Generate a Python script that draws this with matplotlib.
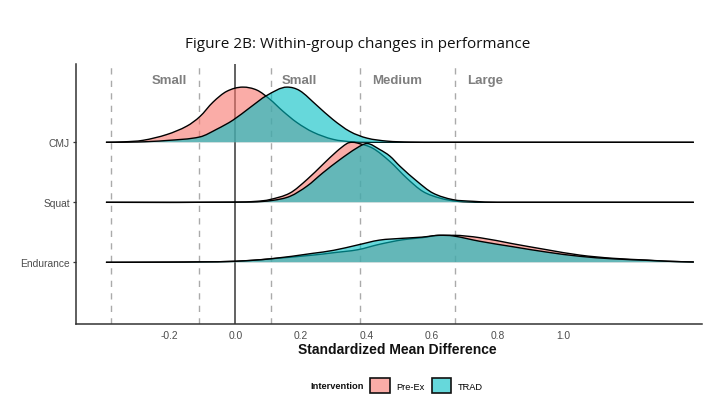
import matplotlib
matplotlib.use("Agg")
import matplotlib.pyplot as plt
from matplotlib.path import Path
from matplotlib.patches import PathPatch, Patch
from matplotlib.colors import to_rgba

# ---------------- data ----------------
outcomes = ["Endurance", "Squat", "CMJ"]          # bottom -> top
groups = ["Pre-Ex", "TRAD"]
group_colors = ["#F8766D", "#00BFC4"]
thresholds = [-0.38, -0.11, 0.11, 0.38, 0.67]
region_labels = ["Small", "Small", "Medium", "Large"]
region_label_x = [-0.20, 0.197, 0.495, 0.762]
x_ticks = [-0.2, 0.0, 0.2, 0.4, 0.6, 0.8, 1.0]
x_tick_labels = ["-0.2", "0.0", "0.2", "0.4", "0.6", "0.8", "1.0"]

# ridge heights in units of ridge spacing
cmj_pre_x = [-0.395, -0.34, -0.282, -0.209, -0.148, -0.108, -0.068, -0.026, 0.023,
             0.066, 0.105, 0.145, 0.188, 0.237, 0.298, 0.359, 0.44, 1.40]
cmj_pre_h = [0.0, 0.008, 0.033, 0.13, 0.27, 0.43, 0.67, 0.85, 0.92,
             0.87, 0.72, 0.52, 0.33, 0.17, 0.05, 0.008, 0.0, 0.0]
cmj_trad_x = [-0.395, -0.30, -0.21, -0.108, -0.056, -0.007, 0.045, 0.096, 0.158,
              0.197, 0.248, 0.298, 0.35, 0.402, 0.463, 0.533, 0.62, 1.40]
cmj_trad_h = [0.0, 0.005, 0.03, 0.09, 0.22, 0.37, 0.58, 0.78, 0.92,
              0.86, 0.62, 0.38, 0.18, 0.07, 0.02, 0.003, 0.0, 0.0]

squat_pre_x = [-0.395, 0.0, 0.066, 0.105, 0.167, 0.219, 0.267, 0.310, 0.341, 0.356,
               0.371, 0.42, 0.472, 0.524, 0.573, 0.625, 0.677, 0.75, 1.40]
squat_pre_h = [0.0, 0.002, 0.017, 0.045, 0.155, 0.38, 0.63, 0.85, 0.98, 1.0,
               0.99, 0.9, 0.68, 0.40, 0.18, 0.07, 0.017, 0.0, 0.0]
squat_trad_x = [-0.395, 0.05, 0.115, 0.167, 0.219, 0.267, 0.319, 0.371, 0.402, 0.441,
                0.472, 0.503, 0.555, 0.603, 0.664, 0.725, 0.80, 1.40]
squat_trad_h = [0.0, 0.005, 0.033, 0.10, 0.27, 0.49, 0.71, 0.905, 0.98, 0.88,
                0.77, 0.60, 0.35, 0.155, 0.045, 0.017, 0.0, 0.0]

end_x = [-0.395, -0.2, -0.108, 0.0, 0.106, 0.237, 0.30, 0.374, 0.44, 0.51, 0.57,
         0.625, 0.665, 0.747, 0.847, 0.951, 1.052, 1.153, 1.257, 1.32, 1.40]
end_pre_h = [0.0, 0.003, 0.007, 0.017, 0.057, 0.12, 0.16, 0.21, 0.30, 0.375, 0.41,
             0.45, 0.45, 0.41, 0.31, 0.21, 0.12, 0.067, 0.037, 0.018, 0.005]
end_trad_h = [0.0, 0.003, 0.007, 0.017, 0.057, 0.15, 0.20, 0.29, 0.37, 0.40, 0.42,
              0.45, 0.44, 0.35, 0.26, 0.17, 0.10, 0.058, 0.033, 0.017, 0.005]

ridges = {
    "CMJ": [(cmj_pre_x, cmj_pre_h), (cmj_trad_x, cmj_trad_h)],
    "Squat": [(squat_pre_x, squat_pre_h), (squat_trad_x, squat_trad_h)],
    "Endurance": [(end_x, end_pre_h), (end_x, end_trad_h)],
}

# ---------------- helpers ----------------
def smooth_path(xs, hs, base, closed):
    """Monotone cubic Hermite through the read points, as Bezier segments."""
    n = len(xs)
    m = []
    for i in range(n):
        if i == 0:
            s = (hs[1] - hs[0]) / (xs[1] - xs[0])
        elif i == n - 1:
            s = (hs[-1] - hs[-2]) / (xs[-1] - xs[-2])
        else:
            d1 = hs[i] - hs[i - 1]
            d2 = hs[i + 1] - hs[i]
            if d1 * d2 <= 0:
                s = 0.0
            else:
                s = (hs[i + 1] - hs[i - 1]) / (xs[i + 1] - xs[i - 1])
        m.append(s)
    verts = [(xs[0], base + hs[0])]
    codes = [Path.MOVETO]
    for i in range(n - 1):
        dx = xs[i + 1] - xs[i]
        verts += [(xs[i] + dx / 3, base + hs[i] + m[i] * dx / 3),
                  (xs[i + 1] - dx / 3, base + hs[i + 1] - m[i + 1] * dx / 3),
                  (xs[i + 1], base + hs[i + 1])]
        codes += [Path.CURVE4] * 3
    if closed:
        verts += [(xs[-1], base), (xs[0], base), (xs[0], base)]
        codes += [Path.LINETO, Path.LINETO, Path.CLOSEPOLY]
    return Path(verts, codes)

# ---------------- figure ----------------
W, H = 709, 406
fig = plt.figure(figsize=(W / 100, H / 100), dpi=100)
ax_left, ax_right, ax_top, ax_bottom = 75.8, 701.7, 65.0, 325.0
ax = fig.add_axes([ax_left / W, 1 - ax_bottom / H,
                   (ax_right - ax_left) / W, (ax_bottom - ax_top) / H])

ax.set_xlim(-0.487, 1.424)
ax.set_ylim(-1.028, 3.305)

for t in thresholds:
    ax.axvline(t, color="#AAAAAA", lw=1.0, ls=(0, (4.5, 4.5)), zorder=1)
ax.axvline(0.0, color="#555555", lw=1.3, zorder=1)

z = 2
for name in ["CMJ", "Squat", "Endurance"]:
    base = outcomes.index(name)
    for (xs, hs), col in zip(ridges[name], group_colors):
        fill = PathPatch(smooth_path(xs, hs, base, True),
                         facecolor=to_rgba(col, 0.6), edgecolor="none", zorder=z)
        ax.add_patch(fill)
        line = PathPatch(smooth_path(xs, hs, base, False),
                         facecolor="none", edgecolor="black", lw=1.0, zorder=z + 0.5)
        ax.add_patch(line)
        z += 1

for lab, lx in zip(region_labels, region_label_x):
    ax.text(lx, 3.04, lab, ha="center", va="center", fontsize=9.5,
            fontweight="bold", color="#7F7F7F", family="Liberation Sans")

ax.set_yticks(range(len(outcomes)))
ax.set_yticklabels(outcomes)
ax.set_xticks(x_ticks)
ax.set_xticklabels(x_tick_labels)
for lab in ax.get_xticklabels() + ax.get_yticklabels():
    lab.set_family("Liberation Sans")
    lab.set_fontsize(7.4)
    lab.set_color("#4D4D4D")
ax.tick_params(axis="x", length=0, pad=4.3)
ax.tick_params(axis="y", length=2.3, width=0.9, color="#333333", pad=2.0)

for s in ["top", "right"]:
    ax.spines[s].set_visible(False)
for s in ["left", "bottom"]:
    ax.spines[s].set_color("#333333")
    ax.spines[s].set_linewidth(1.1)

fig.text(358 / W, 1 - 45 / H, "Figure 2B: Within-group changes in performance",
         ha="center", va="center", fontsize=11, family="Open Sans", color="#111111")
fig.text(397.5 / W, 1 - 350 / H, "Standardized Mean Difference",
         ha="center", va="center", fontsize=10, fontweight="bold",
         family="Liberation Sans", color="#111111")

# legend
fig.text(337 / W, 1 - 386.7 / H, "Intervention", ha="center", va="center",
         fontsize=6.7, fontweight="bold", family="Liberation Sans", color="#111111")
handles = [Patch(facecolor=to_rgba(c, 0.6), edgecolor="#111111", lw=1.2, label=g)
           for g, c in zip(groups, group_colors)]
fig.legend(handles=handles, loc="center left", bbox_to_anchor=(370 / W, 1 - 386.7 / H),
           ncol=2, frameon=False, borderpad=0, borderaxespad=0,
           handlelength=2.1, handleheight=2.1, handletextpad=0.75,
           columnspacing=0.75, prop={"family": "Liberation Sans", "size": 6.7})

fig.savefig("out.png", dpi=100)
